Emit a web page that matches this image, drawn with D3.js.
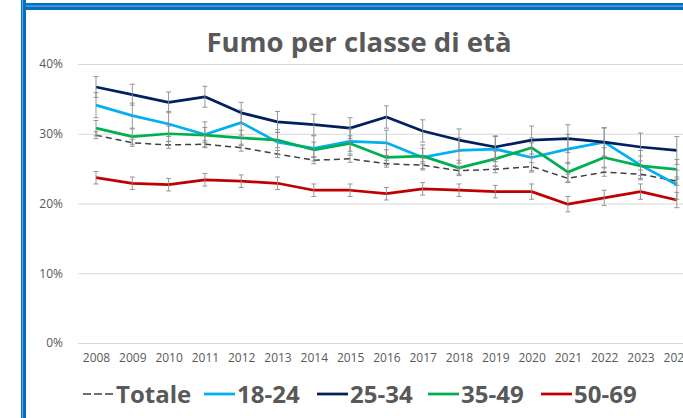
<!DOCTYPE html>
<html>
<head>
<meta charset="utf-8">
<script src="https://cdn.jsdelivr.net/npm/d3@7"></script>
<style>
  body { margin: 0; background: #fff; }
  svg { display: block; }
</style>
</head>
<body>
<svg id="chart" width="683" height="418"></svg>
<script>
// anni e valori (percentuali)
var years = ["2008","2009","2010","2011","2012","2013","2014","2015","2016","2017","2018","2019","2020","2021","2022","2023","2024"];
var totale = [29.8,28.7,28.4,28.5,28.0,27.1,26.2,26.4,25.7,25.5,24.7,24.9,25.3,23.6,24.5,24.2,23.2];
var v1824  = [34.1,32.6,31.4,29.9,31.6,28.8,27.9,28.9,28.7,26.6,27.6,27.8,26.6,27.8,28.8,25.5,22.7];
var v2534  = [36.7,35.6,34.5,35.3,33.0,31.7,31.3,30.8,32.4,30.4,29.1,28.1,29.1,29.3,28.8,28.1,27.6];
var v3549  = [30.8,29.6,30.0,29.8,29.4,29.1,27.7,28.6,26.6,26.8,25.1,26.4,28.0,24.5,26.6,25.4,24.9];
var v5069  = [23.7,22.9,22.7,23.4,23.2,22.9,21.9,21.9,21.4,22.1,21.9,21.7,21.7,19.9,20.8,21.7,20.5];
// semi-ampiezza barre di errore
var eTot  = [0.5,0.5,0.5,0.5,0.5,0.5,0.5,0.5,0.5,0.5,0.5,0.5,0.6,0.6,0.6,0.6,0.6];
var e1824 = [1.8,1.8,1.8,1.8,1.8,1.8,1.8,1.8,1.8,1.8,1.8,1.8,2.1,2.1,2.1,2.1,2.1];
var e2534 = [1.5,1.5,1.5,1.5,1.5,1.5,1.5,1.5,1.6,1.6,1.6,1.6,2.0,2.0,2.0,2.0,2.0];
var e3549 = [1.1,1.1,1.1,1.1,1.1,1.1,1.1,1.1,1.1,1.1,1.1,1.1,1.4,1.4,1.4,1.4,1.4];
var e5069 = [0.9,0.9,0.9,0.9,0.9,0.9,0.9,0.9,0.9,0.9,0.9,0.9,1.1,1.1,1.1,1.1,1.1];
var yTicks = [0, 10, 20, 30, 40];

var series = [
  {name: "Totale", values: totale, err: eTot,  color: "#404040", width: 1.5, dash: "6,4"},
  {name: "18-24",  values: v1824,  err: e1824, color: "#00b0f0", width: 2.75},
  {name: "25-34",  values: v2534,  err: e2534, color: "#002060", width: 2.75},
  {name: "35-49",  values: v3549,  err: e3549, color: "#00b050", width: 2.75},
  {name: "50-69",  values: v5069,  err: e5069, color: "#c00000", width: 2.75}
];

var svg = d3.select("#chart");
var grey = "#595959";

// cornice blu
svg.append("rect").attr("x", 26).attr("y", 3).attr("width", 683).attr("height", 7).attr("fill", "#0070c0");
svg.append("rect").attr("x", 26).attr("y", 5.5).attr("width", 683).attr("height", 1.2).attr("fill", "#6fa8dc");
svg.append("rect").attr("x", 21).attr("y", 0).attr("width", 5).attr("height", 418).attr("fill", "#0070c0");
svg.append("rect").attr("x", 22).attr("y", 0).attr("width", 1).attr("height", 418).attr("fill", "#6fa8dc");

var x = d3.scalePoint().domain(years).range([96, 96 + 16 * 36.3]);
var y = d3.scaleLinear().domain([0, 40]).range([343, 64]);

// griglia
svg.append("g")
  .attr("transform", "translate(78,0)")
  .call(d3.axisLeft(y).tickValues(yTicks).tickSize(-620).tickFormat(""))
  .call(g => g.select(".domain").remove())
  .selectAll("line").attr("stroke", "#d9d9d9").attr("stroke-width", 1);

// etichette asse y
svg.append("g")
  .attr("transform", "translate(78,0)")
  .call(d3.axisLeft(y).tickValues(yTicks).tickSize(0).tickPadding(15).tickFormat(d => d + "%"))
  .call(g => g.select(".domain").remove())
  .selectAll("text")
  .attr("fill", grey).style("font-family", "'Open Sans', sans-serif").style("font-size", "12px");

// etichette asse x
svg.append("g")
  .attr("transform", "translate(0,343)")
  .call(d3.axisBottom(x).tickSize(0).tickPadding(10))
  .call(g => g.select(".domain").remove())
  .selectAll("text")
  .attr("fill", grey).style("font-family", "'Open Sans', sans-serif").style("font-size", "12px");

var line = d3.line()
  .x((d, i) => x(years[i]))
  .y(d => y(d));

svg.selectAll(".serie")
  .data(series)
  .enter().append("path")
  .attr("class", "serie")
  .attr("d", d => line(d.values))
  .attr("fill", "none")
  .attr("stroke", d => d.color)
  .attr("stroke-width", d => d.width)
  .attr("stroke-dasharray", d => d.dash || null)
  .attr("stroke-linejoin", "round");

// barre di errore
var bars = [];
series.forEach(function(s) {
  s.values.forEach(function(v, i) {
    bars.push({year: years[i], lo: v - s.err[i], hi: v + s.err[i]});
  });
});

var eb = svg.append("g").attr("stroke", "#8c8c8c").attr("stroke-width", 0.9);
eb.selectAll(".eb-v").data(bars).enter().append("line")
  .attr("x1", d => x(d.year)).attr("x2", d => x(d.year))
  .attr("y1", d => y(d.lo)).attr("y2", d => y(d.hi));
eb.selectAll(".eb-t").data(bars).enter().append("line")
  .attr("x1", d => x(d.year) - 2.5).attr("x2", d => x(d.year) + 2.5)
  .attr("y1", d => y(d.hi)).attr("y2", d => y(d.hi));
eb.selectAll(".eb-b").data(bars).enter().append("line")
  .attr("x1", d => x(d.year) - 2.5).attr("x2", d => x(d.year) + 2.5)
  .attr("y1", d => y(d.lo)).attr("y2", d => y(d.lo));

// titolo
svg.append("text")
  .attr("x", 359).attr("y", 52)
  .attr("text-anchor", "middle")
  .attr("fill", grey)
  .style("font-family", "'Open Sans', sans-serif")
  .style("font-size", "27.5px").style("font-weight", "bold")
  .text("Fumo per classe di età");

// legenda
var legX = [83, 204, 317, 428, 541];
var leg = svg.selectAll(".leg").data(series).enter().append("g")
  .attr("class", "leg")
  .attr("transform", (d, i) => "translate(" + legX[i] + ",394)");
leg.append("line")
  .attr("x1", 0).attr("x2", 31).attr("y1", 0).attr("y2", 0)
  .attr("stroke", d => d.color)
  .attr("stroke-width", d => d.dash ? 1.5 : 2.75)
  .attr("stroke-dasharray", d => d.dash ? "8,3" : null);
leg.append("text")
  .attr("x", 33).attr("y", 9)
  .attr("fill", grey)
  .style("font-family", "'Open Sans', sans-serif")
  .style("font-size", "24px").style("font-weight", "bold")
  .text(d => d.name);
</script>
</body>
</html>
